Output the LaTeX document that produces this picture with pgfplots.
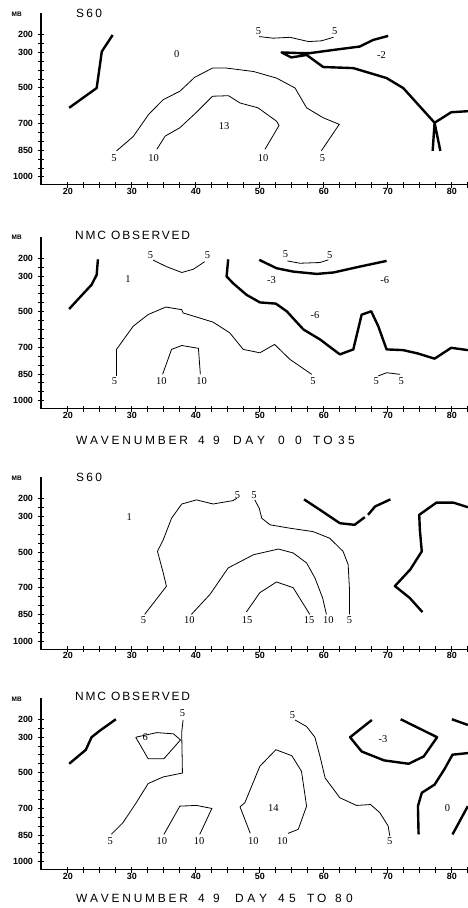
\documentclass[border=0pt]{standalone}
\usepackage{fontspec}
\setmainfont{Liberation Serif}
\newfontfamily\titlefont{Liberation Sans}
\newfontfamily\tickfont{Liberation Sans}
\usepackage{pgfplots}
\pgfplotsset{compat=1.18}
\pgfplotsset{
  panel/.style={
    scale only axis, width=427.5bp, height=171.8bp,
    xmin=15.8, xmax=82.6, ymin=80, ymax=1045, y dir=reverse,
    anchor=south west,
    axis line style={draw=none},
    clip=false,
    xtick={20,30,...,80},
    minor xtick={22.5,25,...,82.5},
    ytick={200,300,500,700,850,1000},
    yticklabels={200,300,500,700,850,1000},
    minor ytick={200,250,...,1000},
    tick align=center,
    major tick length=6bp, minor tick length=6bp,
    every tick/.style={line width=0.9bp, black},
    xtick pos=left, ytick pos=left,
    tick label style={font=\tickfont\bfseries\fontsize{9}{9}\selectfont},
    xticklabel style={yshift=3bp},
    yticklabel style={xshift=-1.5bp},
    /pgf/number format/assume math mode=true,
  },
  thin/.style={black, line width=0.8bp, mark=none},
  thick/.style={black, line width=2.4bp, mark=none, line join=round},
}
\newcommand{\axlines}{\draw[line width=1.1bp] (axis cs:15.8,80) -- (axis cs:15.8,1045) -- (axis cs:82.6,1045);
  \node[font=\tickfont\bfseries\fontsize{6.5}{7}\selectfont] at (axis cs:12.0,85) {MB};}
\newcommand{\lab}[3]{\node[font=\fontsize{10.5}{11}\selectfont, inner sep=0pt] at (axis cs:#1,#2) {#3};}
\newcommand{\word}[3]{\node[font=\titlefont\fontsize{12}{13}\selectfont, anchor=west, inner sep=0pt] at (axis cs:#1,#2) {#3};}
\newcommand{\sixty}{\word{21.25}{83}{\makebox[26bp][s]{S\hfil 6\hfil 0}}}
\newcommand{\nmc}{\word{21.1}{73}{\makebox[115bp][s]{N\hfil M\hfil C\hfil\hfil\hfil O\hfil B\hfil S\hfil E\hfil R\hfil V\hfil E\hfil D}}}
\newcommand{\wave}[1]{\word{21.25}{#1}{\makebox[112bp][s]{W\hfil A\hfil V\hfil E\hfil N\hfil U\hfil M\hfil B\hfil E\hfil R}}
  \word{40.31}{#1}{4}\word{42.66}{#1}{9}}
\newcommand{\DAY}{\makebox[32bp][s]{D\hfil A\hfil Y}}
\newcommand{\TO}{\makebox[19.5bp][s]{T\hfil O}}
\begin{document}
\begin{tikzpicture}
\useasboundingbox (0,0) rectangle (468bp,908bp);
% ---------------- Panel 1 ----------------
\begin{axis}[panel, at={(41bp,723.1bp)}]
\axlines
\sixty
\addplot[thick] coordinates {(20.2,612) (24.5,501) (25.3,296) (27.0,203)};
\addplot[thin] coordinates {(49.9,212) (52.1,221) (54.7,216) (57.6,240) (59.6,236) (61.5,216)};
\addplot[thick] coordinates {(70.05,208) (67.7,231) (65.6,268) (61.5,287) (57.8,305) (56.5,305) (53.4,301) (54.9,329) (56.5,320) (57.3,315) (59.9,383) (64.6,389) (69.8,445) (72.4,501) (77.3,696) (79.9,637) (82.5,631)};
\addplot[thick] coordinates {(77.0,854) (77.3,696) (78.2,854)};
\addplot[thin] coordinates {(27.6,854) (30.2,774) (32.6,650) (34.9,566) (37.5,519) (39.8,441) (42.6,389) (44.8,389) (49.0,408) (52.6,445) (55.5,501) (57.3,612) (59.9,668) (62.4,705) (59.6,854)};
\addplot[thin] coordinates {(33.9,845) (35.2,771) (37.5,724) (40.1,637) (42.6,547) (45.1,544) (46.9,585) (49.7,612) (52.6,687) (53.0,711) (50.8,845)};
\lab{27.2}{892}{5} \lab{59.8}{892}{5} \lab{33.4}{892}{10} \lab{50.5}{892}{10}
\lab{49.8}{179}{5} \lab{61.7}{183}{5} \lab{44.4}{715}{13} \lab{37.0}{309}{0} \lab{69.0}{315}{-2}
\end{axis}
% ---------------- Panel 2 ----------------
\begin{axis}[panel, at={(41bp,499.3bp)}]
\axlines
\nmc
\wave{1222}
\word{45.78}{1222}{\DAY}\word{52.81}{1222}{0}\word{55.47}{1222}{0}\word{58.28}{1222}{\TO}\word{62.19}{1222}{3}\word{63.75}{1222}{5}
\addplot[thick] coordinates {(20.2,485) (22.4,399) (23.7,349) (24.5,293) (24.6,247) (24.7,206)};
\addplot[thin] coordinates {(33.3,210) (35.4,247) (37.8,280) (39.6,262) (41.4,219)};
\addplot[thick] coordinates {(45.05,206) (44.8,302) (45.8,340) (47.9,405) (50.0,448) (52.5,455) (54.2,498) (56.8,600) (59.4,656) (62.5,740) (64.6,712) (65.9,517) (67.4,498) (68.5,582) (69.8,712) (72.4,716) (74.7,735) (77.3,764) (79.9,703) (82.5,716)};
\addplot[thick] coordinates {(49.9,209) (52.6,256) (55.2,275) (58.9,288) (61.5,280) (65.6,247) (69.8,215)};
\addplot[thin] coordinates {(54.3,215) (56.25,228) (59.4,224) (60.7,209)};
\addplot[thin] coordinates {(27.6,861) (27.6,712) (30.2,582) (32.55,516) (35.3,474) (37.8,489) (38.0,507) (42.7,559) (45.3,619) (47.4,712) (50.0,731) (52.3,684) (54.7,768) (58.1,852)};
\addplot[thin] coordinates {(34.8,852) (36.2,712) (37.8,690) (40.4,706) (40.7,852)};
\addplot[thin] coordinates {(68.5,861) (69.8,843) (71.9,852)};
\lab{32.9}{182}{5} \lab{41.8}{182}{5} \lab{54.0}{178}{5} \lab{60.9}{181}{5}
\lab{29.4}{316}{1} \lab{51.8}{321}{-3} \lab{69.5}{321}{-6} \lab{58.6}{517}{-6}
\lab{27.3}{890}{5} \lab{58.3}{890}{5} \lab{34.6}{890}{10} \lab{40.9}{890}{10} \lab{68.2}{890}{5} \lab{72.1}{890}{5}
\end{axis}
% ---------------- Panel 3 ----------------
\begin{axis}[panel, at={(41bp,258.9bp)}]
\axlines
\sixty
\addplot[thin] coordinates {(32.0,850) (35.4,692) (34.9,617) (34.0,496) (34.9,431) (36.2,310) (37.8,230) (40.1,207) (42.7,230) (45.8,211) (46.4,198)};
\addplot[thin] coordinates {(49.2,207) (49.9,254) (50.3,310) (51.6,347) (54.7,366) (58.3,385) (60.9,422) (63.0,496) (63.8,571) (64.0,710) (64.0,850)};
\addplot[thin] coordinates {(39.3,850) (42.2,738) (45.05,589) (49.0,515) (52.9,483) (55.2,505) (57.3,561) (58.6,645) (59.8,757) (60.4,850)};
\addplot[thin] coordinates {(47.9,836) (50.0,728) (52.6,668) (55.2,700) (57.8,850)};
\addplot[thick] coordinates {(56.9,204) (59.4,263) (62.5,338) (64.8,347) (66.4,304)};
\addplot[thick] coordinates {(66.9,291) (68.0,244) (70.4,204)};
\addplot[thick] coordinates {(82.5,248) (80.2,222) (77.6,222) (74.9,291) (75.0,375) (75.3,496) (73.5,598) (71.1,691) (73.4,757) (75.4,837)};
\lab{29.6}{305}{1} \lab{46.5}{183}{5} \lab{49.1}{183}{5}
\lab{31.8}{881}{5} \lab{39.0}{881}{10} \lab{48.0}{881}{15} \lab{57.7}{881}{15} \lab{60.7}{881}{10} \lab{64.0}{881}{5}
\end{axis}
% ---------------- Panel 4 ----------------
\begin{axis}[panel, at={(41bp,38.3bp)}]
\axlines
\nmc
\wave{1204}
\word{46.09}{1204}{\DAY}\word{52.81}{1204}{4}\word{54.53}{1204}{5}\word{57.34}{1204}{\TO}\word{61.72}{1204}{8}\word{63.44}{1204}{0}
\addplot[thick] coordinates {(20.2,450) (22.8,372) (23.7,301) (25.0,264) (27.5,200)};
\addplot[thin] coordinates {(38.0,204) (37.8,269) (37.8,301) (37.9,502) (34.9,524) (32.55,561) (30.5,679) (28.6,781) (26.8,846)};
\addplot[thin] coordinates {(30.6,301) (32.55,422) (35.0,422) (37.6,316) (36.5,282) (33.9,275) (30.6,301)};
\addplot[thin] coordinates {(35.0,847) (37.5,688) (40.1,684) (42.5,701) (40.6,847)};
\addplot[thin] coordinates {(48.5,841) (47.65,762) (46.9,692) (47.65,669) (50.0,464) (52.5,371) (55.0,405) (56.5,492) (57.3,688) (56.0,818) (54.4,841)};
\addplot[thin] coordinates {(55.5,204) (57.3,241) (58.6,301) (59.4,409) (60.2,530) (62.5,641) (65.1,684) (67.3,679) (68.75,725) (70.05,800) (70.3,856)};
\addplot[thick] coordinates {(67.5,204) (64.1,301) (65.9,381) (69.4,431) (73.25,450) (75.6,409) (77.7,301) (72.0,200)};
\addplot[thick] coordinates {(80.0,200) (82.5,232)};
\addplot[thick] coordinates {(74.8,847) (74.7,688) (75.3,613) (77.3,567) (78.8,483) (80.1,399) (82.5,390)};
\addplot[thick] coordinates {(80.1,847) (82.5,688)};
\lab{37.9}{167}{5} \lab{32.1}{301}{6} \lab{55.1}{176}{5} \lab{69.25}{310}{-3}
\lab{52.1}{701}{14} \lab{79.3}{701}{0}
\lab{26.6}{884}{5} \lab{34.7}{884}{10} \lab{40.5}{884}{10} \lab{49.0}{884}{10} \lab{53.5}{884}{10} \lab{70.3}{884}{5}
\end{axis}
\end{tikzpicture}
\end{document}
